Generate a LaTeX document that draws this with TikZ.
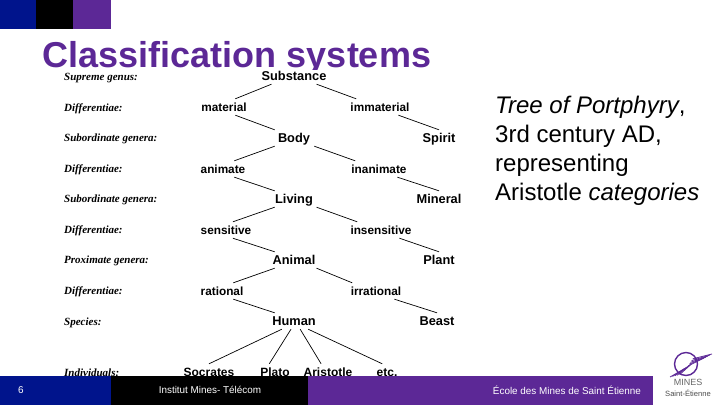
\documentclass[tikz,border=0pt]{standalone}
\usepackage{fontspec}
\setmainfont{Liberation Sans}
\newfontfamily\rankfont{Liberation Serif}
\usepackage{xcolor}
\usetikzlibrary{positioning}
\definecolor{minesblue}{HTML}{00148C}
\definecolor{minespurple}{HTML}{5C2896}
\tikzstyle{branch}  = [line width=0.7pt, black]
\tikzstyle{rank}    = [anchor=west, inner sep=0pt, font=\rankfont\fontsize{11}{12}\selectfont\bfseries\itshape]
\tikzstyle{differ}  = [inner sep=0pt, minimum height=16pt, text height=8.5pt, text depth=0.5pt, font=\fontsize{11.8}{13}\selectfont\bfseries]
\tikzstyle{genus}   = [inner sep=0pt, minimum height=16pt, text height=9pt, text depth=0pt, font=\fontsize{12.8}{14}\selectfont\bfseries]
\tikzstyle{person}  = [genus, font=\fontsize{12}{14}\selectfont\bfseries]
\tikzstyle{core}    = [genus, minimum width=46pt]
\tikzstyle{band}    = [anchor=north west, inner sep=0pt, outer sep=0pt]
\tikzstyle{foot}    = [white, inner sep=0pt, font=\fontsize{9.9}{11}\selectfont]
\tikzset{every node/.style={align=center}}

\begin{document}
\begin{tikzpicture}[x=1pt, y=-1pt]
    \useasboundingbox (0,0) rectangle (720,405);

    \node (title) at (237, 58) [minespurple, inner sep=0pt, font=\fontsize{36}{40}\selectfont\bfseries]
          {Classification systems};
    \node (sheet) at (63, 70) [band, fill=white, minimum width=400pt, minimum height=306pt] {};

    \node (rsup)  at (64, 78)  [rank] {Supreme genus:};
    \node (rdif1) at (64, 109) [rank] {Differentiae:};
    \node (rsub1) at (64, 139) [rank] {Subordinate genera:};
    \node (rdif2) at (64, 170) [rank] {Differentiae:};
    \node (rsub2) at (64, 200) [rank] {Subordinate genera:};
    \node (rdif3) at (64, 231) [rank] {Differentiae:};
    \node (rprox) at (64, 261) [rank] {Proximate genera:};
    \node (rdif4) at (64, 292) [rank] {Differentiae:};
    \node (rspec) at (64, 323) [rank] {Species:};
    \node (rindi) at (64, 373) [rank] {Individuals:};

    \node (substance)  at (294, 76)  [genus]  {Substance};
    \node (material)   at (224, 107) [differ] {material};
    \node (immaterial) at (380, 107) [differ] {immaterial};
    \node (body)       at (294, 138) [core]   {Body};
    \node (spirit)     at (439, 138) [genus]  {Spirit};
    \node (animate)    at (223, 169) [differ] {animate};
    \node (inanimate)  at (379, 169) [differ] {inanimate};
    \node (living)     at (294, 199) [core]   {Living};
    \node (mineral)    at (439, 199) [genus]  {Mineral};
    \node (sensitive)  at (226, 230) [differ] {sensitive};
    \node (insensitive) at (381, 230) [differ] {insensitive};
    \node (animal)     at (294, 260) [core]   {Animal};
    \node (plant)      at (439, 260) [genus]  {Plant};
    \node (rational)   at (222, 291) [differ] {rational};
    \node (irrational) at (376, 291) [differ] {irrational};
    \node (human)      at (294, 321) [core]   {Human};
    \node (beast)      at (437, 321) [genus]  {Beast};
    \node (socrates)   at (209, 372) [person] {Socrates};
    \node (plato)      at (275, 372) [person] {Plato};
    \node (aristotle)  at (328, 372) [person] {Aristotle};
    \node (etc)        at (387, 372) [person] {etc.};

    \draw [branch] (substance.200)  -- (material.36);
    \draw [branch] (substance.-20)  -- (immaterial.161);
    \draw [branch] (immaterial.-24) -- (spirit.north);
    \draw [branch] (material.-36)   -- (body.157);
    \draw [branch] (body.203)       -- (animate.36);
    \draw [branch] (body.-22)       -- (inanimate.161);
    \draw [branch] (inanimate.-24)  -- (mineral.north);
    \draw [branch] (animate.-36)    -- (living.157);
    \draw [branch] (living.203)     -- (sensitive.50);
    \draw [branch] (living.-20)     -- (insensitive.161);
    \draw [branch] (insensitive.-24) -- (plant.north);
    \draw [branch] (sensitive.-50)  -- (animal.157);
    \draw [branch] (animal.203)     -- (rational.36);
    \draw [branch] (animal.-20)     -- (irrational.161);
    \draw [branch] (irrational.-24) -- (beast.north);
    \draw [branch] (rational.-36)   -- (human.157);
    \draw [branch] (human.214)      -- (socrates.north);
    \draw [branch] (human.250)      -- (plato.125);
    \draw [branch] (human.-53)      -- (aristotle.130);
    \draw [branch] (human.-30)      -- (etc.120);

    \node (note) at (495, 151) [anchor=west, inner sep=0pt, align=left, font=\fontsize{24}{29}\selectfont]
          {\textit{Tree of Portphyry},\\3rd century AD,\\representing\\Aristotle \textit{categories}};

    % bands
    \node (topa) at (0, 0)    [band, fill=minesblue,   minimum width=36pt,  minimum height=29pt] {};
    \node (topb) at (36, 0)   [band, fill=black,       minimum width=37pt,  minimum height=29pt] {};
    \node (topc) at (73, 0)   [band, fill=minespurple, minimum width=38pt,  minimum height=29pt] {};
    \node (bota) at (0, 376)  [band, fill=minesblue,   minimum width=111pt, minimum height=29pt] {};
    \node (botb) at (111, 376) [band, fill=black,      minimum width=197pt, minimum height=29pt] {};
    \node (botc) at (308, 376) [band, fill=minespurple, minimum width=345pt, minimum height=29pt] {};

    \node (page)   at (21, 390)  [foot] {6};
    \node (inst)   at (210, 390) [foot] {Institut Mines- Télécom};
    \node (school) at (567, 390) [foot] {École des Mines de Saint Étienne};

    % logo
    \draw [minespurple, line width=1.4pt] (686,364) circle (11.5);
    \foreach \off in {0,2,...,8} {
        \draw [minespurple, line width=0.8pt] (670+\off*1.2, 377-\off*0.3) -- (684+\off*0.9, 369-\off*0.6);
        \draw [minespurple, line width=0.8pt] (688+\off*0.6, 366-\off*0.9) -- (704+\off, 358-\off*0.5);
    }
    \node (mines) at (688, 382) [inner sep=0pt, gray!80!black, font=\fontsize{9}{10}\selectfont] {MINES};
    \node (saint) at (688, 393) [inner sep=0pt, black!70, font=\fontsize{7.6}{9}\selectfont] {Saint-Étienne};
\end{tikzpicture}
\end{document}
